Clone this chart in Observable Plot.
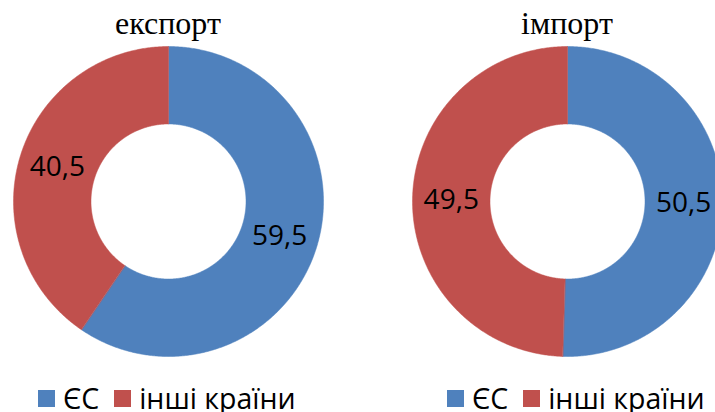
<!DOCTYPE html>
<html>
<head>
<meta charset="utf-8">
<script src="https://cdn.jsdelivr.net/npm/d3@7"></script>
<script src="https://cdn.jsdelivr.net/npm/@observablehq/plot@0.6"></script>
<style>
  html, body { margin: 0; padding: 0; background: #fff; overflow: hidden; }
  #stage { position: relative; width: 715px; height: 412px; overflow: hidden; background: #fff; }
  .title { position: absolute; top: 7px; width: 300px; text-align: center;
           font-family: "Liberation Serif", "Times New Roman", serif; font-size: 32px; line-height: 32px; color: #000; }
  .svgwrap { position: absolute; top: 41px; }
  .legwrap { position: absolute; top: 385px; white-space: nowrap; width: max-content; }
  .lg-swatches { margin: 0 !important; min-height: 0 !important; line-height: 27px !important; flex-wrap: nowrap !important; width: max-content; }
  .lg-swatch > svg { margin-right: 8px !important; }
  .lg-swatches-wrap .lg-swatch { margin-right: 15px !important; white-space: nowrap; }
  .lg-swatches-wrap .lg-swatch:last-child { margin-right: 0 !important; }
</style>
</head>
<body>
<div id="stage"></div>
<script>
// ---- data ----
const categories = ["ЄС", "інші країни"];
const exportValues = [59.5, 40.5];
const importValues = [50.5, 49.5];
const titles = ["експорт", "імпорт"];
const colors = ["#4F81BD", "#C0504D"];

// ---- layout constants ----
const R = 155;          // px per unit (outer radius = 1)
const INNER = 0.5;      // inner radius in units
const SVG_H = 320;

function fmt(v) { return String(v).replace(".", ","); }

function donutData(values) {
  const total = d3.sum(values);
  const pts = [];
  const labels = [];
  let acc = 0;
  values.forEach((v, i) => {
    const a0 = acc / total * 360;
    const a1 = (acc + v) / total * 360;
    acc += v;
    const n = Math.max(2, Math.ceil((a1 - a0) / 0.5));
    const rad = a => a * Math.PI / 180;
    for (let k = 0; k <= n; k++) {
      const a = a0 + (a1 - a0) * k / n;
      pts.push({cat: categories[i], x: Math.sin(rad(a)), y: Math.cos(rad(a))});
    }
    for (let k = n; k >= 0; k--) {
      const a = a0 + (a1 - a0) * k / n;
      pts.push({cat: categories[i], x: INNER * Math.sin(rad(a)), y: INNER * Math.cos(rad(a))});
    }
    const am = rad((a0 + a1) / 2);
    const rm = (1 + INNER) / 2;
    labels.push({cat: categories[i], text: fmt(v), x: rm * Math.sin(am), y: rm * Math.cos(am)});
  });
  return {pts, labels};
}

function addDonut(stage, title, values, cx, svgLeft, svgWidth, legendLeft) {
  const t = document.createElement("div");
  t.className = "title";
  t.style.left = (cx - 150) + "px";
  t.textContent = title;
  stage.appendChild(t);

  const {pts, labels} = donutData(values);
  const localCx = cx - svgLeft;
  const chart = Plot.plot({
    width: svgWidth,
    height: SVG_H,
    margin: 0,
    x: {domain: [-localCx / R, (svgWidth - localCx) / R], axis: null},
    y: {domain: [-(SVG_H / 2) / R, (SVG_H / 2) / R], axis: null},
    color: {domain: categories, range: colors},
    style: {background: "transparent"},
    marks: [
      Plot.line(pts, {x: "x", y: "y", z: "cat", fill: "cat", stroke: "cat", strokeWidth: 0.5, curve: "linear-closed", clip: true}),
      Plot.text(labels, {x: "x", y: "y", text: "text", fontSize: 28, fontFamily: "Open Sans", fill: "#000", clip: true})
    ]
  });
  const w = document.createElement("div");
  w.className = "svgwrap";
  w.style.left = svgLeft + "px";
  w.appendChild(chart);
  stage.appendChild(w);

  const leg = Plot.legend({
    color: {domain: categories, range: colors},
    legend: "swatches",
    swatchSize: 17,
    className: "lg",
    style: {fontFamily: "Open Sans", fontSize: "28.5px", color: "#000"}
  });
  const lw = document.createElement("div");
  lw.className = "legwrap";
  lw.style.left = legendLeft + "px";
  lw.appendChild(leg);
  stage.appendChild(lw);
}

const stage = document.getElementById("stage");
addDonut(stage, titles[0], exportValues, 168, 0, 357, 38);
addDonut(stage, titles[1], importValues, 567, 357, 358, 447);
</script>
</body>
</html>
